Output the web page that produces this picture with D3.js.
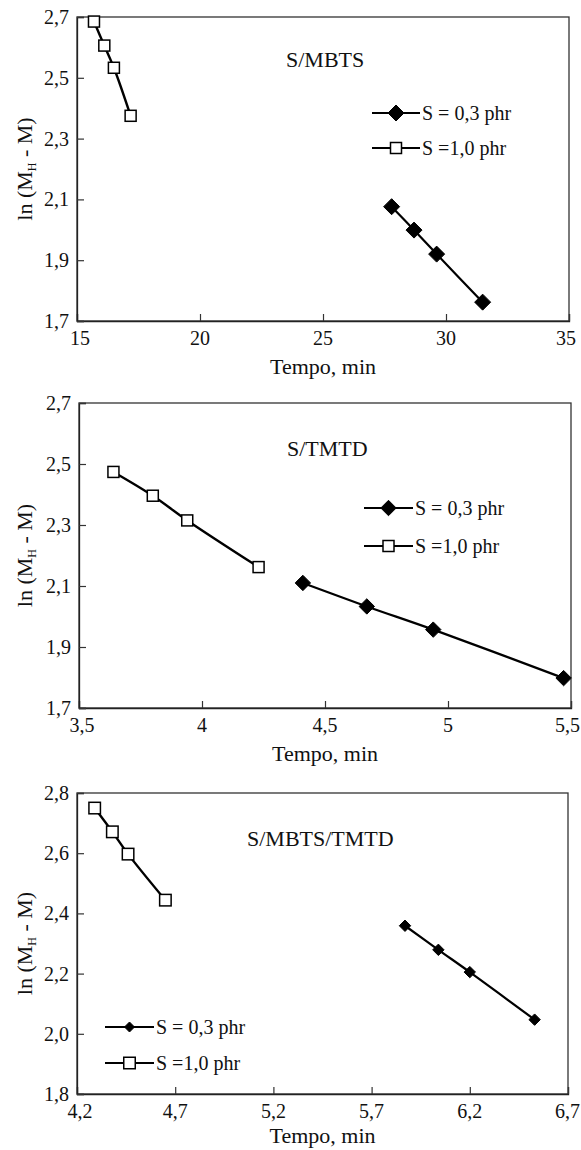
<!DOCTYPE html>
<html><head><meta charset="utf-8">
<script src="https://cdn.jsdelivr.net/npm/d3@7"></script>
<style>
html,body{margin:0;padding:0;background:#fff;}
svg text{font-family:"Liberation Serif","Times New Roman",serif;fill:#111;}
</style></head>
<body><svg id="c" width="581" height="1150"></svg>
<script>
// ---- data ----
const seriesNames = ["S = 0,3 phr", "S =1,0 phr"];
const panelTitles = ["S/MBTS", "S/TMTD", "S/MBTS/TMTD"];

const p1_x03 = [27.79, 28.70, 29.62, 31.49];
const p1_y03 = [2.076, 1.999, 1.920, 1.762];
const p1_x10 = [15.69, 16.11, 16.50, 17.18];
const p1_y10 = [2.685, 2.606, 2.533, 2.375];

const p2_x03 = [4.41, 4.67, 4.94, 5.47];
const p2_y03 = [2.110, 2.033, 1.957, 1.798];
const p2_x10 = [3.64, 3.80, 3.94, 4.23];
const p2_y10 = [2.474, 2.396, 2.315, 2.162];

const p3_x03 = [5.87, 6.04, 6.20, 6.53];
const p3_y03 = [2.359, 2.279, 2.205, 2.047];
const p3_x10 = [4.29, 4.38, 4.46, 4.65];
const p3_y10 = [2.750, 2.671, 2.597, 2.444];

const p1_xTicks = [15, 20, 25, 30, 35];
const p1_yTicks = [1.7, 1.9, 2.1, 2.3, 2.5, 2.7];
const p2_xTicks = [3.5, 4, 4.5, 5, 5.5];
const p2_yTicks = [1.7, 1.9, 2.1, 2.3, 2.5, 2.7];
const p3_xTicks = [4.2, 4.7, 5.2, 5.7, 6.2, 6.7];
const p3_yTicks = [1.8, 2.0, 2.2, 2.4, 2.6, 2.8];

const xTitle = "Tempo, min";

// ---- layout ----
const panels = [
  {box:[77,569,17,321], xd:[15,35], yd:[1.7,2.7], xt:p1_xTicks, yt:p1_yTicks, yfmt:d3.format(".1f"), xfmt:d3.format("d"),
   s03:[p1_x03,p1_y03], s10:[p1_x10,p1_y10], title:panelTitles[0], tpos:[286,67], xtOff:53,
   leg:{x1:372,x2:420,y:[113,148]}, dia:8, ldia:8, sq:11},
  {box:[79,571,403,708], xd:[3.5,5.5], yd:[1.7,2.7], xt:p2_xTicks, yt:p2_yTicks, yfmt:d3.format(".1f"), xfmt:v=>String(v),
   s03:[p2_x03,p2_y03], s10:[p2_x10,p2_y10], title:panelTitles[1], tpos:[287,456], xtOff:53,
   leg:{x1:364,x2:413,y:[508,546]}, dia:7.7, ldia:7.7, sq:11},
  {box:[77,568,793,1094], xd:[4.2,6.7], yd:[1.8,2.8], xt:p3_xTicks, yt:p3_yTicks, yfmt:d3.format(".1f"), xfmt:d3.format(".1f"),
   s03:[p3_x03,p3_y03], s10:[p3_x10,p3_y10], title:panelTitles[2], tpos:[247,846], xtOff:49,
   leg:{x1:105,x2:154,y:[1027,1063]}, dia:5.7, ldia:5, sq:11.5}
];

const svg = d3.select("#c");
const comma = s => s.replace(".", ",");

function diamond(g, x, y, r){
  g.append("path").attr("d", `M${x},${y-r}L${x+r},${y}L${x},${y+r}L${x-r},${y}Z`)
    .attr("fill","#000").attr("stroke","#000").attr("stroke-width",1);
}
function square(g, x, y, s){
  g.append("rect").attr("x",x-s/2).attr("y",y-s/2).attr("width",s).attr("height",s)
    .attr("fill","#fff").attr("stroke","#000").attr("stroke-width",1.5);
}

panels.forEach(p=>{
  const [L,R,T,B] = p.box;
  const x = d3.scaleLinear().domain(p.xd).range([L,R]);
  const y = d3.scaleLinear().domain(p.yd).range([B,T]);
  const g = svg.append("g");

  // frame
  g.append("rect").attr("x",L).attr("y",T).attr("width",R-L).attr("height",B-T)
    .attr("fill","none").attr("stroke","#333").attr("stroke-width",1.3);

  // axes (inward ticks)
  const xa = g.append("g").attr("transform",`translate(0,${B})`)
    .call(d3.axisTop(x).tickValues(p.xt).tickSize(7).tickFormat(""));
  const ya = g.append("g").attr("transform",`translate(${L},0)`)
    .call(d3.axisRight(y).tickValues(p.yt).tickSize(7).tickFormat(""));
  [xa,ya].forEach(a=>{a.select(".domain").attr("stroke","#222").attr("stroke-width",1.3);
    a.selectAll(".tick line").attr("stroke","#333").attr("stroke-width",1.2);});

  // tick labels
  const last = p.xt.length-1;
  g.selectAll(".xl").data(p.xt).enter().append("text")
    .attr("x",(d,i)=>x(d) + (i===last ? -3 : (i===0 ? 3 : 0))).attr("y",B+24)
    .attr("text-anchor",(d,i)=> i===last && x(d)+14>581 ? "middle" : "middle")
    .attr("font-size",20).text(d=>comma(p.xfmt(d)))
    .each(function(d,i){
      if(i===last){ const w=this.getComputedTextLength(); const cx=x(d); if(cx+w/2>580) d3.select(this).attr("x",580-w/2); }
    });
  g.selectAll(".yl").data(p.yt).enter().append("text")
    .attr("x",L-8).attr("y",d=>y(d)).attr("dy","0.35em").attr("text-anchor","end")
    .attr("font-size",20).text(d=>comma(p.yfmt(d)));

  // axis titles
  g.append("text").attr("x",(L+R)/2).attr("y",B+p.xtOff).attr("text-anchor","middle")
    .attr("font-size",22).text(xTitle);
  const yt = g.append("text").attr("transform",`translate(32,${(T+B)/2}) rotate(-90)`)
    .attr("text-anchor","middle").attr("font-size",22);
  yt.append("tspan").text("ln (M");
  yt.append("tspan").attr("font-size",12).attr("dy","0.3em").text("H");
  yt.append("tspan").attr("dy","-0.18em").text(" - M)");

  // panel title
  g.append("text").attr("x",p.tpos[0]).attr("y",p.tpos[1]).attr("font-size",22).text(p.title);

  // series
  const line = d3.line().x(d=>x(d[0])).y(d=>y(d[1])).curve(d3.curveCatmullRom.alpha(0.5));
  const d03 = p.s03[0].map((v,i)=>[v,p.s03[1][i]]);
  const d10 = p.s10[0].map((v,i)=>[v,p.s10[1][i]]);
  g.append("path").datum(d03).attr("d",line).attr("fill","none").attr("stroke","#000").attr("stroke-width",2.2);
  g.append("path").datum(d10).attr("d",line).attr("fill","none").attr("stroke","#000").attr("stroke-width",2.4);
  d03.forEach(d=>diamond(g,x(d[0]),y(d[1]),p.dia));
  d10.forEach(d=>square(g,x(d[0]),y(d[1]),p.sq));

  // legend
  const lg = p.leg, mx = (lg.x1+lg.x2)/2;
  seriesNames.forEach((nm,i)=>{
    const yy = lg.y[i];
    g.append("line").attr("x1",lg.x1).attr("x2",lg.x2).attr("y1",yy).attr("y2",yy)
      .attr("stroke","#000").attr("stroke-width",2.2);
    if(i===0) diamond(g,mx,yy,p.ldia); else square(g,mx,yy,p.sq);
    g.append("text").attr("x",lg.x2+2).attr("y",yy).attr("dy","0.35em").attr("font-size",20).text(nm);
  });
});
</script></body></html>
